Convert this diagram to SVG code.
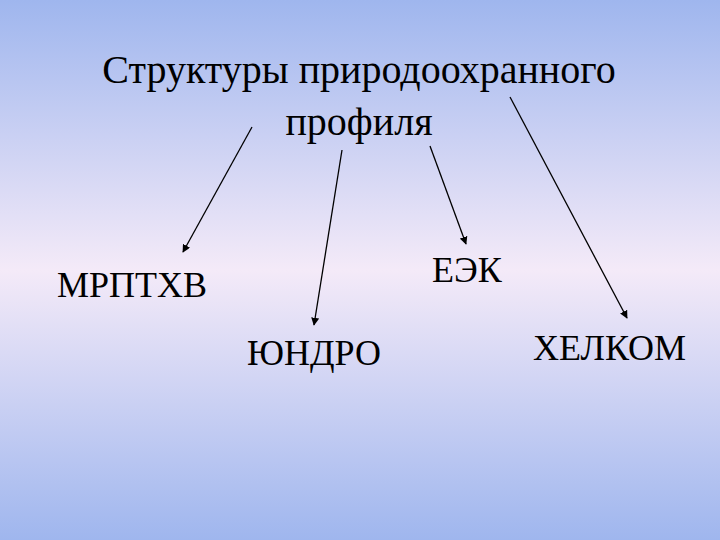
<svg xmlns="http://www.w3.org/2000/svg" width="720" height="540" viewBox="0 0 720 540">
<defs>
<linearGradient id="bg" x1="0" y1="0" x2="0" y2="1">
<stop offset="0" stop-color="#9fb6ee"/>
<stop offset="0.5" stop-color="#f4eaf8"/>
<stop offset="1" stop-color="#9fb6ee"/>
</linearGradient>
<marker id="ah" viewBox="0 0 10 10" refX="9" refY="5" markerWidth="8" markerHeight="8" orient="auto" markerUnits="userSpaceOnUse">
<path d="M0,0 L10,5 L0,10 z" fill="#000"/>
</marker>
<style>
text{font-family:"Liberation Serif","DejaVu Serif",serif;fill:#000}
.t{font-size:40px;text-anchor:middle}
.n{font-size:36px}
line{stroke:#000;stroke-width:1.3;marker-end:url(#ah)}
</style>
</defs>
<rect width="720" height="540" fill="url(#bg)"/>
<g id="title"><text class="t" x="359" y="83">Структуры природоохранного</text><text class="t" x="359" y="135">профиля</text></g>
<g id="connectors">
<line x1="252" y1="127" x2="183" y2="252"/>
<line x1="342" y1="150" x2="314" y2="325"/>
<line x1="430" y1="146" x2="466" y2="244"/>
<line x1="510" y1="97" x2="627" y2="318"/>
</g>
<g id="n1"><text class="n" x="57" y="297">МРПТХВ</text></g>
<g id="n2"><text class="n" x="432" y="282">ЕЭК</text></g>
<g id="n3"><text class="n" x="247" y="365">ЮНДРО</text></g>
<g id="n4"><text class="n" x="533" y="360">ХЕЛКОМ</text></g>
</svg>
